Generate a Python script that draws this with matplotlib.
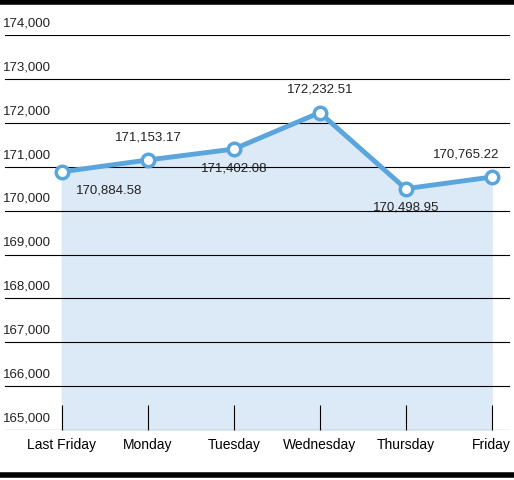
import matplotlib
matplotlib.use("Agg")
import matplotlib.pyplot as plt
from matplotlib.lines import Line2D

days = ["Last Friday", "Monday", "Tuesday", "Wednesday", "Thursday", "Friday"]
values = [170884.58, 171153.17, 171402.08, 172232.51, 170498.95, 170765.22]
yticks = list(range(165000, 175000, 1000))
# label placement: +1 above the point, -1 below
label_side = [-1, 1, -1, 1, -1, 1]
label_dx = [0.55, 0, 0, 0, 0, -0.3]

plt.rcParams["font.family"] = ["Liberation Sans", "DejaVu Sans"]

fig = plt.figure(figsize=(5.14, 4.8), dpi=100)
ax = fig.add_axes([0, 0.104, 1, 0.823])
x = list(range(len(days)))
ax.set_xlim(-0.72, 5.26)
ax.set_ylim(165000, 174000)

for t in yticks:
    ax.axhline(t, color="black", lw=0.8, xmin=0.01, xmax=0.99, zorder=1)
    ax.text(-0.68, t + 130, f"{t:,}", fontsize=9.5, va="bottom", ha="left", color="#222")

ax.fill_between(x, values, 165000, color="#dce9f7", zorder=0)
ax.plot(x, values, color="#5aa6dc", lw=3.5, zorder=3, marker="o", ms=9,
        mfc="white", mec="#5aa6dc", mew=2.5)

for i, (xi, v) in enumerate(zip(x, values)):
    off = 380 if label_side[i] > 0 else -300
    ax.text(xi + label_dx[i], v + off, f"{v:,.2f}", fontsize=9.5, ha="center",
            va="bottom" if label_side[i] > 0 else "top", color="#222", zorder=4)

ax.set_xticks(x)
ax.set_xticklabels(days, fontsize=10)
ax.tick_params(axis="x", length=18, direction="in", width=0.8, pad=6)
ax.tick_params(axis="y", left=False, labelleft=False)
for s in ax.spines.values():
    s.set_visible(False)

fig.add_artist(Line2D([0, 1], [0.996, 0.996], color="black", lw=4, transform=fig.transFigure))
fig.add_artist(Line2D([0, 1], [0.01, 0.01], color="black", lw=4, transform=fig.transFigure))

fig.savefig("out.png", dpi=100)
